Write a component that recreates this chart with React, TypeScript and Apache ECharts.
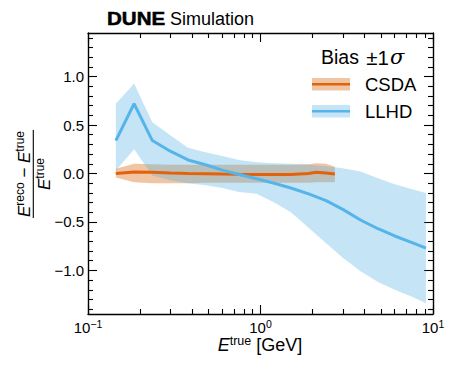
import React, { useEffect, useRef } from "react";
import * as echarts from "echarts";

// ---- data ----
const energy = [0.145, 0.185, 0.236, 0.3, 0.38, 0.48, 0.6, 0.75, 0.95, 1.2, 1.5, 1.9, 2.4, 3.0, 3.8, 4.8, 6.0, 7.5, 9.1];
const llhdBias = [0.34, 0.72, 0.34, 0.23, 0.14, 0.09, 0.035, -0.01, -0.055, -0.1, -0.15, -0.21, -0.28, -0.37, -0.48, -0.57, -0.645, -0.71, -0.77];
const llhdUpper = [0.72, 0.93, 0.53, 0.395, 0.265, 0.22, 0.18, 0.14, 0.115, 0.105, 0.1, 0.09, 0.075, 0.055, 0.02, -0.05, -0.11, -0.16, -0.2];
const llhdLower = [0.03, 0.25, -0.02, -0.07, -0.1, -0.12, -0.15, -0.19, -0.21, -0.3, -0.4, -0.56, -0.72, -0.87, -1.01, -1.12, -1.2, -1.27, -1.34];

const csdaEnergy = [0.145, 0.185, 0.236, 0.3, 0.38, 0.48, 0.6, 0.75, 0.95, 1.2, 1.5, 1.9, 2.1, 2.4, 2.7];
const csdaBias = [0.0, 0.015, 0.012, 0.005, 0.0, -0.003, -0.006, -0.008, -0.01, -0.01, -0.01, 0.0, 0.013, 0.005, -0.005];
const csdaUpper = [0.05, 0.1, 0.095, 0.09, 0.09, 0.09, 0.09, 0.09, 0.09, 0.09, 0.09, 0.095, 0.105, 0.1, 0.07];
const csdaLower = [-0.04, -0.09, -0.1, -0.1, -0.1, -0.095, -0.095, -0.095, -0.095, -0.095, -0.095, -0.095, -0.09, -0.09, -0.09];

const xMajorTicks = [0.1, 1, 10];
const xMinorTicks = [0.2, 0.3, 0.4, 0.5, 0.6, 0.7, 0.8, 0.9, 2, 3, 4, 5, 6, 7, 8, 9];
const yMajorTicks = [-1, -0.5, 0, 0.5, 1];
const yMinorTicks = [-1.4, -1.3, -1.2, -1.1, -0.9, -0.8, -0.7, -0.6, -0.4, -0.3, -0.2, -0.1, 0.1, 0.2, 0.3, 0.4, 0.6, 0.7, 0.8, 0.9, 1.1, 1.2, 1.3, 1.4];

const FONT = "Liberation Sans";
const ORANGE = "#E2620C";
const BLUE = "#56B4E9";
const ORANGE_BAND = "rgba(213,94,0,0.36)";
const BLUE_BAND = "rgba(86,180,233,0.34)";

function bandSeries(xs: number[], lo: number[], hi: number[], fill: string) {
  return {
    type: "custom",
    xAxisIndex: 0,
    yAxisIndex: 0,
    silent: true,
    z: 1,
    data: xs.map((x, i) => [x, lo[i], hi[i]]),
    encode: { x: 0, y: [1, 2] },
    renderItem: (params: any, api: any) => {
      if (params.dataIndex !== 0) return null;
      const pts: number[][] = [];
      for (let i = 0; i < xs.length; i++) pts.push(api.coord([xs[i], hi[i]]));
      for (let i = xs.length - 1; i >= 0; i--) pts.push(api.coord([xs[i], lo[i]]));
      return { type: "polygon", shape: { points: pts }, style: { fill } };
    },
  };
}

const gridRect = { left: 88, right: 16, top: 33, bottom: 60, outerBoundsMode: "none" };

function xAxisDef(gridIndex: number, position: string, ticks: number[], len: number, showLine: boolean, labels: boolean) {
  return {
    type: "log",
    logBase: 10,
    gridIndex,
    position,
    min: 0.1,
    max: 10,
    axisLine: { show: showLine, onZero: false, lineStyle: { color: "#000", width: 1.4 } },
    axisTick: { show: true, inside: true, length: len, customValues: ticks, lineStyle: { color: "#000", width: 1.1 } },
    minorTick: { show: false },
    splitLine: { show: false },
    axisLabel: labels
      ? {
          show: true,
          customValues: xMajorTicks,
          margin: 4,
          color: "#000",
          formatter: (v: number) => {
            const e = Math.round(Math.log10(v));
            return "{b|10}{s|" + (e < 0 ? "\u2212" : "") + Math.abs(e) + "}";
          },
          rich: {
            b: { fontFamily: FONT, fontSize: 15, color: "#000", lineHeight: 18 },
            s: { fontFamily: FONT, fontSize: 10.5, color: "#000", lineHeight: 11, verticalAlign: "top" },
          },
        }
      : { show: false },
  };
}

function yAxisDef(gridIndex: number, position: string, ticks: number[], len: number, showLine: boolean, labels: boolean) {
  return {
    type: "value",
    gridIndex,
    position,
    min: -1.45,
    max: 1.45,
    axisLine: { show: showLine, onZero: false, lineStyle: { color: "#000", width: 1.4 } },
    axisTick: { show: true, inside: true, length: len, customValues: ticks, lineStyle: { color: "#000", width: 1.1 } },
    splitLine: { show: false },
    axisLabel: labels
      ? {
          show: true,
          customValues: yMajorTicks,
          margin: 4,
          color: "#000",
          fontFamily: FONT,
          fontSize: 15,
          formatter: (v: number) => v.toFixed(1).replace("-", "\u2212"),
        }
      : { show: false },
  };
}

const supRich = (size: number, sup: number) => ({
  e: { fontFamily: FONT, fontSize: size, fontStyle: "italic", color: "#000", lineHeight: size + 3 },
  s: { fontFamily: FONT, fontSize: sup, color: "#000", lineHeight: sup, verticalAlign: "top" },
  n: { fontFamily: FONT, fontSize: size, color: "#000", lineHeight: size + 3 },
});

export default function App() {
  const ref = useRef<HTMLDivElement>(null);
  useEffect(() => {
    if (!ref.current) return;
    const chart = echarts.init(ref.current, undefined, { renderer: "svg" });
    chart.setOption({
      animation: false,
      backgroundColor: "#fff",
      grid: [gridRect, gridRect],
      xAxis: [
        xAxisDef(0, "bottom", xMajorTicks, 9, true, true),
        xAxisDef(0, "top", xMajorTicks, 9, true, false),
        xAxisDef(1, "bottom", xMinorTicks, 5, false, false),
        xAxisDef(1, "top", xMinorTicks, 5, false, false),
      ],
      yAxis: [
        yAxisDef(0, "left", yMajorTicks, 9, true, true),
        yAxisDef(0, "right", yMajorTicks, 9, true, false),
        yAxisDef(1, "left", yMinorTicks, 5, false, false),
        yAxisDef(1, "right", yMinorTicks, 5, false, false),
      ],
      series: [
        bandSeries(csdaEnergy, csdaLower, csdaUpper, ORANGE_BAND),
        bandSeries(energy, llhdLower, llhdUpper, BLUE_BAND),
        {
          type: "line",
          name: "CSDA",
          xAxisIndex: 0,
          yAxisIndex: 0,
          z: 3,
          symbol: "none",
          data: csdaEnergy.map((x, i) => [x, csdaBias[i]]),
          lineStyle: { color: ORANGE, width: 3 },
        },
        {
          type: "line",
          name: "LLHD",
          xAxisIndex: 0,
          yAxisIndex: 0,
          z: 4,
          symbol: "none",
          data: energy.map((x, i) => [x, llhdBias[i]]),
          lineStyle: { color: BLUE, width: 3 },
        },
      ],
      graphic: [
        {
          type: "text",
          x: 107,
          y: 19,
          scaleX: 1.14,
          style: { text: "DUNE", fontFamily: FONT, fontWeight: "bold", fontSize: 18, fill: "#000", stroke: "#000", lineWidth: 0.5, textVerticalAlign: "middle" },
        },
        {
          type: "text",
          x: 170,
          y: 19,
          style: { text: "Simulation", fontFamily: FONT, fontSize: 18, fill: "#000", textVerticalAlign: "middle" },
        },
        // legend
        {
          type: "text",
          x: 321,
          y: 57,
          style: {
            text: "{a|Bias }{p|\u00B11}{g|\u03C3}",
            textVerticalAlign: "middle",
            rich: {
              a: { fontFamily: FONT, fontSize: 19.5, color: "#000" },
              p: { fontFamily: FONT, fontSize: 20.5, color: "#000", padding: [0, 1, 0, 2] },
              g: { fontFamily: "DejaVu Serif", fontStyle: "italic", fontSize: 21, color: "#000" },
            },
          },
        },
        { type: "rect", shape: { x: 312, y: 78, width: 38, height: 12.5 }, style: { fill: ORANGE_BAND } },
        { type: "line", shape: { x1: 312, y1: 84.2, x2: 350, y2: 84.2 }, style: { stroke: ORANGE, lineWidth: 2.6 } },
        { type: "text", x: 365, y: 84.5, style: { text: "CSDA", fontFamily: FONT, fontSize: 18.5, fill: "#000", textVerticalAlign: "middle" } },
        { type: "rect", shape: { x: 312, y: 105, width: 38, height: 12.5 }, style: { fill: BLUE_BAND } },
        { type: "line", shape: { x1: 312, y1: 111.2, x2: 350, y2: 111.2 }, style: { stroke: BLUE, lineWidth: 2.6 } },
        { type: "text", x: 365, y: 111.5, style: { text: "LLHD", fontFamily: FONT, fontSize: 18.5, fill: "#000", textVerticalAlign: "middle" } },
        // x axis title
        {
          type: "text",
          x: 260,
          y: 345,
          style: {
            text: "{e|E}{s|true}{n| [GeV]}",
            textAlign: "center",
            textVerticalAlign: "middle",
            rich: supRich(18, 12.5),
          },
        },
        // y axis title (fraction), rotated
        {
          type: "group",
          x: 33.3,
          y: 174,
          rotation: Math.PI / 2,
          children: [
            { type: "line", shape: { x1: -44, y1: 0, x2: 44, y2: 0 }, style: { stroke: "#000", lineWidth: 1.1 } },
            {
              type: "text",
              x: 0,
              y: 1,
              style: {
                text: "{e|E}{s|reco}{n| \u2212 }{e|E}{s|true}",
                textAlign: "center",
                textVerticalAlign: "bottom",
                rich: supRich(17, 12),
              },
            },
            {
              type: "text",
              x: 0,
              y: 1,
              style: {
                text: "{e|E}{s|true}",
                textAlign: "center",
                textVerticalAlign: "top",
                rich: supRich(17, 12),
              },
            },
          ],
        },
      ],
    });
    return () => chart.dispose();
  }, []);
  return <div ref={ref} style={{ position: "absolute", left: 0, top: 0, width: 449, height: 374 }} />;
}
